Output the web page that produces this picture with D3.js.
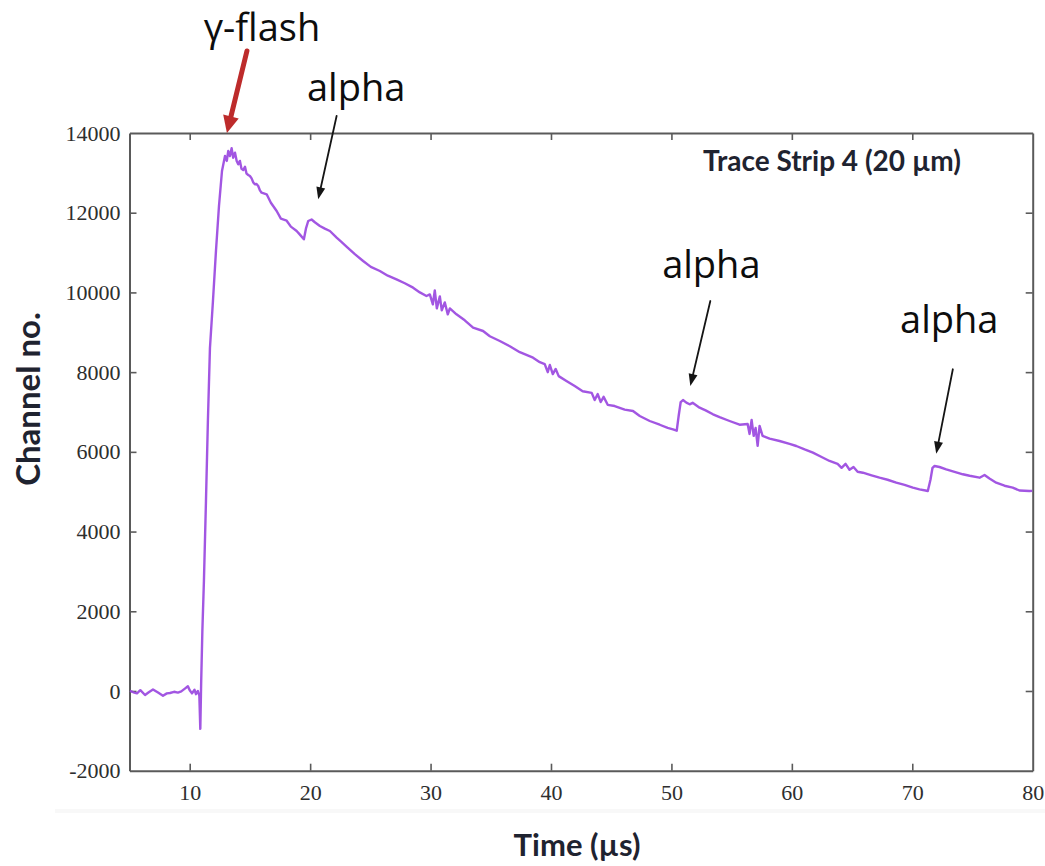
<!DOCTYPE html>
<html>
<head>
<meta charset="utf-8">
<script src="https://cdn.jsdelivr.net/npm/d3@7"></script>
<style>
  html, body { margin: 0; padding: 0; background: #fff; }
  svg { display: block; }
</style>
</head>
<body>
<svg id="chart" width="1045" height="866"></svg>
<script>
// ---------------- data ----------------
const time = [
  5.04, 5.4, 5.62, 5.9, 6.29, 6.6, 6.95, 7.37, 7.78, 8.1, 8.36, 8.7, 9.02, 9.3, 9.6, 9.85, 10.0, 10.19, 10.4, 10.52, 10.68, 10.8, 10.88, 10.95,
  11.05, 11.18, 11.35, 11.51, 11.68, 11.93, 12.18, 12.43, 12.68, 12.93, 13.08, 13.2, 13.34, 13.48, 13.61, 13.76, 13.9, 14.03, 14.17, 14.3,
  14.44, 14.59, 14.72, 14.86, 15.0, 15.14, 15.28, 15.41, 15.55, 15.69, 15.83, 15.97, 16.39, 16.74, 17.22, 17.57, 18.05, 18.4, 18.88, 19.15,
  19.48, 19.65, 19.84, 20.12, 20.39, 20.81, 21.22, 21.64, 22.2, 22.55, 23.02, 23.71, 24.4, 25.04, 25.79, 26.45, 27.17, 27.86, 28.55, 29.11,
  29.66, 29.94, 30.19, 30.35, 30.52, 30.77, 30.93, 31.18, 31.43, 31.6, 32.15, 32.84, 33.53, 34.36, 34.92, 35.75, 36.58, 37.41, 38.51, 39.07,
  39.48, 39.73, 39.9, 40.15, 40.39, 40.64, 41.28, 41.97, 42.63, 43.38, 43.63, 43.88, 44.13, 44.37, 44.71, 45.29, 46.12, 46.81, 47.37, 48.2,
  49.03, 49.69, 50.13, 50.44, 50.6, 50.77, 50.96, 51.24, 51.51, 51.76, 52.34, 52.84, 53.45, 54.0, 54.83, 55.66, 56.33, 56.49, 56.66, 56.83,
  56.99, 57.16, 57.32, 57.57, 58.15, 58.98, 59.81, 60.37, 61.06, 61.75, 62.47, 63.13, 63.8, 64.13, 64.46, 64.79, 65.12, 65.46, 65.9, 66.62,
  67.28, 67.95, 68.67, 69.36, 70.05, 70.6, 71.1, 71.29, 71.51, 71.68, 71.85, 72.26, 72.82, 73.51, 74.2, 74.76, 75.59, 76.0, 76.41, 76.97,
  77.66, 78.34, 78.9, 79.73, 79.96
];
const channel = [
  0, -40, -60, 20, -100, -30, 40, -40, -120, -60, -50, -20, -40, -10, 60, 120, 20, -60, 30, -80, 0, -120, -950, 200,
  1500, 2760, 4767, 6774, 8606, 9785, 11040, 12169, 13047, 13423, 13300, 13548, 13423, 13620, 13380, 13506, 13300, 13214, 13300, 13100,
  13072, 13154, 12980, 12946, 12920, 12861, 12760, 12713, 12720, 12671, 12560, 12503, 12462, 12250, 12043, 11850, 11800, 11650, 11541, 11450,
  11332, 11600, 11792, 11830, 11760, 11667, 11600, 11541, 11374, 11280, 11150, 10960, 10789, 10640, 10538, 10420, 10329, 10230, 10119, 10000,
  9911, 9950, 9700, 10050, 9600, 9900, 9550, 9750, 9450, 9600, 9451, 9300, 9115, 9032, 8900, 8782, 8650, 8500, 8363, 8250,
  8200, 8000, 8180, 7950, 8080, 7900, 7778, 7650, 7520, 7480, 7300, 7450, 7250, 7380, 7180, 7150, 7060, 7025, 6900, 6774,
  6680, 6600, 6566, 6530, 6900, 7250, 7300, 7234, 7193, 7230, 7108, 7040, 6942, 6870, 6774, 6680, 6700, 6450, 6800, 6400,
  6600, 6150, 6650, 6400, 6330, 6272, 6200, 6147, 6060, 5979, 5870, 5771, 5700, 5600, 5700, 5550, 5620, 5500, 5477, 5410,
  5352, 5300, 5226, 5170, 5101, 5060, 5030, 5018, 5300, 5600, 5645, 5620, 5562, 5500, 5437, 5400, 5352, 5420, 5330, 5226,
  5150, 5101, 5030, 5018, 5020
];
const xTicks = [10, 20, 30, 40, 50, 60, 70, 80];
const yTicks = [-2000, 0, 2000, 4000, 6000, 8000, 10000, 12000, 14000];
const xDomain = [5, 80];
const yDomain = [-2000, 14000];

// annotation labels and the data points their arrows point at
const annoLabels = ["γ-flash", "alpha", "alpha", "alpha"];
const annoTime = [13.09, 20.67, 51.57, 71.99];
const annoValue = [14000, 12337, 7652, 5954];

const seriesLabel = "Trace Strip 4 (20 µm)";
const xTitle = "Time (µs)";
const yTitle = "Channel no.";

// ---------------- layout ----------------
const plotLeft = 129.5, plotRight = 1032.7, plotTop = 133, plotBottom = 770.7;
const svg = d3.select("#chart");

const x = d3.scaleLinear().domain(xDomain).range([plotLeft, plotRight]);
const y = d3.scaleLinear().domain(yDomain).range([plotBottom, plotTop]);

// faint edge of the original figure background
svg.append("line").attr("x1", 55).attr("x2", 1045).attr("y1", 811).attr("y2", 811)
  .attr("stroke", "#f8f8f8").attr("stroke-width", 4);

const tickLen = 7;
const frameColor = "#5a5a5a";
const labelFont = "'Liberation Serif', 'DejaVu Serif', serif";
const plainNum = d => String(d);

function styleAxis(g) {
  g.select(".domain").attr("stroke", frameColor).attr("stroke-width", 2);
  g.selectAll(".tick line").attr("stroke", frameColor).attr("stroke-width", 1.6);
  g.selectAll(".tick text").attr("fill", "#2e2e2e")
    .style("font-family", labelFont).style("font-size", "22px");
}

svg.append("g").attr("transform", `translate(0,${plotBottom})`)
  .call(d3.axisBottom(x).tickValues(xTicks).tickSizeInner(-tickLen).tickSizeOuter(0).tickPadding(14).tickFormat(plainNum))
  .call(styleAxis);
svg.append("g").attr("transform", `translate(0,${plotTop})`)
  .call(d3.axisTop(x).tickValues(xTicks).tickSizeInner(-tickLen).tickSizeOuter(0).tickFormat(""))
  .call(styleAxis);
svg.append("g").attr("transform", `translate(${plotLeft},0)`)
  .call(d3.axisLeft(y).tickValues(yTicks).tickSizeInner(-tickLen).tickSizeOuter(0).tickPadding(9).tickFormat(plainNum))
  .call(styleAxis);
svg.append("g").attr("transform", `translate(${plotRight},0)`)
  .call(d3.axisRight(y).tickValues(yTicks).tickSizeInner(-tickLen).tickSizeOuter(0).tickFormat(""))
  .call(styleAxis);

// remove tick marks sitting on the corners
svg.selectAll(".tick").filter(d => d === 80 || d === -2000 || d === 14000).select("line").remove();

// ---------------- trace ----------------
const pts = time.map((t, i) => [t, channel[i]]);
const line = d3.line().x(d => x(d[0])).y(d => y(d[1]));
svg.append("path").datum(pts)
  .attr("d", line)
  .attr("fill", "none")
  .attr("stroke", "#9a48e0")
  .attr("stroke-width", 2.4)
  .attr("stroke-linejoin", "round")
  .attr("opacity", 0.92);

// ---------------- texts ----------------
const titleFont = "Lato, 'Open Sans', sans-serif";
svg.append("text").text(seriesLabel)
  .attr("x", 703).attr("y", 171)
  .attr("fill", "#1f2330")
  .style("font-family", titleFont).style("font-size", "28px").style("font-weight", 700);

svg.append("text").text(xTitle)
  .attr("x", 577).attr("y", 856).attr("text-anchor", "middle")
  .attr("fill", "#1f2330")
  .style("font-family", titleFont).style("font-size", "31px").style("font-weight", 700);

svg.append("text").text(yTitle)
  .attr("transform", "translate(40,399) rotate(-90)").attr("text-anchor", "middle")
  .attr("fill", "#1f2330")
  .style("font-family", titleFont).style("font-size", "33px").style("font-weight", 700);

// ---------------- annotations ----------------
function arrow(x1, y1, x2, y2, color, width, headLen, headW) {
  const dx = x2 - x1, dy = y2 - y1, L = Math.hypot(dx, dy), ux = dx / L, uy = dy / L;
  const bx = x2 - ux * headLen, by = y2 - uy * headLen;
  const px = -uy, py = ux;
  svg.append("line").attr("x1", x1).attr("y1", y1).attr("x2", bx + ux * 2).attr("y2", by + uy * 2)
    .attr("stroke", color).attr("stroke-width", width).attr("stroke-linecap", "round");
  svg.append("path")
    .attr("d", `M${x2},${y2}L${bx + px * headW / 2},${by + py * headW / 2}L${bx - px * headW / 2},${by - py * headW / 2}Z`)
    .attr("fill", color);
}

const annoFont = "'Open Sans', Lato, sans-serif";
// tail offsets and label offsets relative to the arrow tip (pixels)
const tailDx = [20, 18.4, 20, 16.6], tailDy = [-82, -83.3, -85, -84.4];
const textDx = [35, 38, 21, 13], textDy = [-92, -98, -108, -121];
annoLabels.forEach((lab, i) => {
  const tx = x(annoTime[i]), ty = y(annoValue[i]);
  if (i === 0) {
    arrow(tx + tailDx[i], ty + tailDy[i], tx, ty, "#bd2b2b", 5, 17, 16);
  } else {
    arrow(tx + tailDx[i], ty + tailDy[i], tx, ty, "#151515", 1.8, 12, 9);
  }
  svg.append("text").text(lab)
    .attr("x", tx + textDx[i]).attr("y", ty + textDy[i]).attr("text-anchor", "middle")
    .attr("fill", "#0d0d0d")
    .style("font-family", annoFont).style("font-size", "38px");
});
</script>
</body>
</html>
